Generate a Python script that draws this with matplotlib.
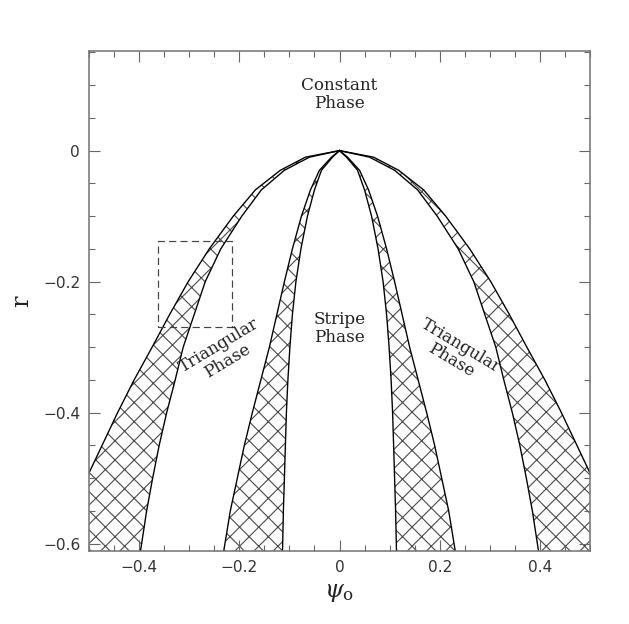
import numpy as np
import matplotlib
matplotlib.use("Agg")
import matplotlib.pyplot as plt
from matplotlib.ticker import MultipleLocator

# ---------------------- PHASE BOUNDARIES ----------------------------------------------
# common r levels, psi of each boundary for psi > 0 (diagram is symmetric in psi)
r_levels = np.array([0.0, -0.01, -0.03, -0.06, -0.10, -0.15, -0.20, -0.25, -0.30,
                     -0.35, -0.40, -0.45, -0.50, -0.55, -0.62])

# outer edge of constant/triangular coexistence band
psi_const = np.array([0.0, 0.068, 0.118, 0.168, 0.212, 0.260, 0.302, 0.339, 0.374,
                      0.410, 0.443, 0.474, 0.505, 0.530, 0.560])
# inner edge of constant/triangular band
psi_tri_out = np.array([0.0, 0.060, 0.110, 0.156, 0.195, 0.237, 0.268, 0.290, 0.312,
                        0.328, 0.345, 0.360, 0.373, 0.385, 0.399])
# triangular side of triangular/stripe band
psi_tri_in = np.array([0.0, 0.016, 0.040, 0.058, 0.076, 0.094, 0.110, 0.125, 0.140,
                       0.157, 0.174, 0.190, 0.204, 0.218, 0.233])
# stripe side of triangular/stripe band
psi_stripe = np.array([0.0, 0.014, 0.036, 0.050, 0.064, 0.077, 0.087, 0.094, 0.099,
                       0.103, 0.106, 0.108, 0.110, 0.112, 0.114])

# dashed box
box_psi = [-0.362, -0.215]
box_r = [-0.269, -0.138]

# ---------------------- PLOT ------------------------
DPI = 115
plt.rcParams['mathtext.fontset'] = 'dejavuserif'
plt.rcParams['hatch.linewidth'] = 0.7

fig = plt.figure(figsize=(629 / DPI, 624 / DPI), dpi=DPI)
ax = fig.add_axes([89 / 629, 1 - 551 / 624, 501 / 629, 500 / 624])

hatch_col = '#4a4a4a'
for s in (-1, 1):
    ax.fill_betweenx(r_levels, s * psi_const, s * psi_tri_out, facecolor='none',
                     edgecolor=hatch_col, hatch='xx', linewidth=0)
    ax.fill_betweenx(r_levels, s * psi_tri_in, s * psi_stripe, facecolor='none',
                     edgecolor=hatch_col, hatch='xx', linewidth=0)
    for psi in (psi_const, psi_tri_out, psi_tri_in, psi_stripe):
        ax.plot(s * psi, r_levels, color='black', linewidth=0.85)

ax.plot([box_psi[0], box_psi[1], box_psi[1], box_psi[0], box_psi[0]],
        [box_r[0], box_r[0], box_r[1], box_r[1], box_r[0]],
        color='#444444', linewidth=0.75, linestyle=(0, (6, 3.5)))

txt = dict(family='DejaVu Serif', fontsize=10.5, color='#222222',
           ha='center', va='center', linespacing=1.05)
ax.text(0, 0.086, 'Constant\nPhase', **txt)
ax.text(0, -0.271, 'Stripe\nPhase', **txt)
ax.text(-0.232, -0.309, 'Triangular\nPhase', rotation=31, rotation_mode='anchor', **txt)
ax.text(0.232, -0.309, 'Triangular\nPhase', rotation=-31, rotation_mode='anchor', **txt)

ax.set_xlim(-0.5, 0.5)
ax.set_ylim(-0.611, 0.152)
ax.xaxis.set_major_locator(MultipleLocator(0.2))
ax.xaxis.set_minor_locator(MultipleLocator(0.05))
ax.yaxis.set_major_locator(MultipleLocator(0.2))
ax.yaxis.set_minor_locator(MultipleLocator(0.05))
ax.set_xticks([-0.4, -0.2, 0, 0.2, 0.4])
ax.set_xticklabels(['\u22120.4', '\u22120.2', '0', '0.2', '0.4'])
ax.set_yticks([-0.6, -0.4, -0.2, 0])
ax.set_yticklabels(['\u22120.6', '\u22120.4', '\u22120.2', '0'])

ax.tick_params(which='both', direction='in', top=True, right=True,
               color='#666666', width=0.7, labelsize=9.6, labelcolor='#333333')
ax.tick_params(which='major', length=6.7, pad=5.5)
ax.tick_params(which='minor', length=3.8)
for sp in ax.spines.values():
    sp.set_color('#777777')
    sp.set_linewidth(1.0)

ax.set_ylabel('r', family='DejaVu Serif', fontsize=15, color='#222222')
ax.yaxis.set_label_coords(-0.112, 0.5)
ax.set_xlabel(r'$\psi_{\rm o}$', fontsize=15, color='#222222')
ax.xaxis.set_label_coords(0.5, -0.058)

fig.savefig('out.png', dpi=DPI)
